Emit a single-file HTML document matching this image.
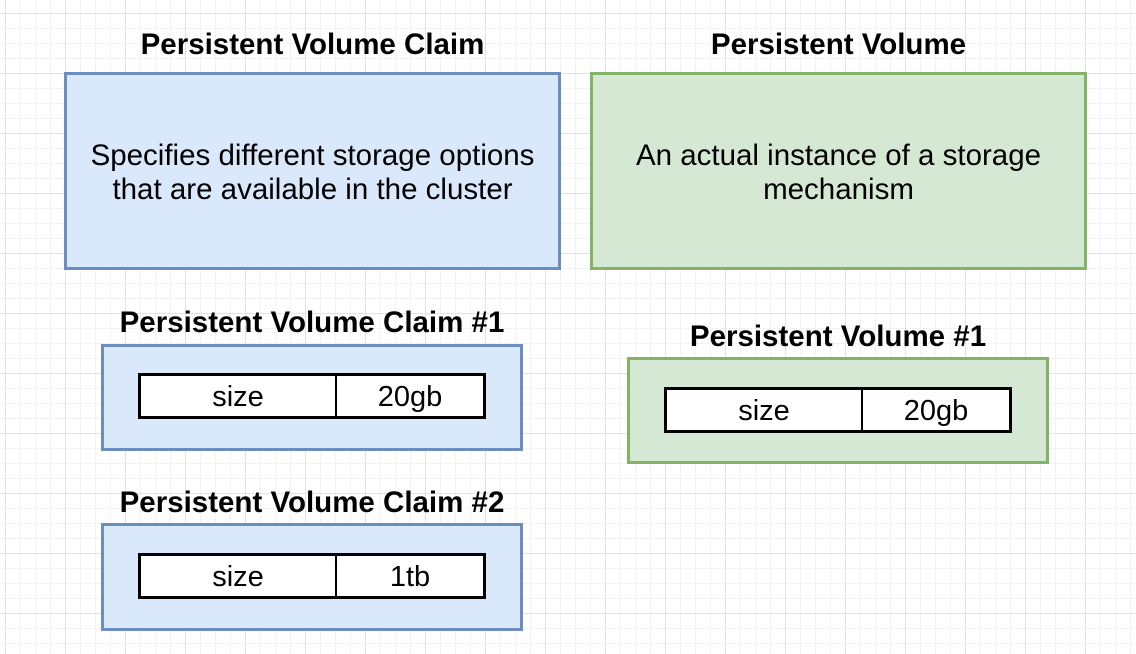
<!DOCTYPE html>
<html><head><style>
body{margin:0;width:1136px;height:654px;overflow:hidden;position:relative;font-family:"Liberation Sans",Arial,sans-serif;
background-color:#fff;
background-image:linear-gradient(#e2e2e2 1px,transparent 1px),linear-gradient(90deg,#e2e2e2 1px,transparent 1px),linear-gradient(#f2f2f2 1px,transparent 1px),linear-gradient(90deg,#f2f2f2 1px,transparent 1px);
background-size:60px 60px,60px 60px,15px 15px,15px 15px;background-position:0 13px,5px 0,0 13px,5px 0;}
.a{position:absolute;box-sizing:border-box}
.t{position:absolute;font-weight:bold;font-size:29.5px;line-height:34px;text-align:center;white-space:nowrap}
.b{border:3px solid #6c8ebf;background:#dae8fc}
.g{border:3px solid #82b366;background:#d5e8d4}
.big{display:flex;align-items:center;justify-content:center;text-align:center;font-size:29.5px;line-height:34px;padding-top:4px}
.tb{display:flex;border:3px solid #000;background:#fff;font-size:29px}
.tb div{display:flex;align-items:center;justify-content:center;padding-top:3px;box-sizing:border-box}
</style></head><body>
<div class="t" style="left:65px;width:495px;top:28px">Persistent Volume Claim</div>
<div class="t" style="left:591px;width:495px;top:28px">Persistent Volume</div>
<div class="a b big" style="left:64px;top:72px;width:497px;height:198px">Specifies different storage options<br>that are available in the cluster</div>
<div class="a g big" style="left:590px;top:72px;width:497px;height:198px">An actual instance of a storage<br>mechanism</div>

<div class="t" style="left:102px;width:420px;top:306px">Persistent Volume Claim #1</div>
<div class="a b" style="left:101px;top:344px;width:422px;height:107px"></div>
<div class="a tb" style="left:138px;top:373px;width:348px;height:46px"><div style="width:196px;border-right:2px solid #000">size</div><div style="flex:1">20gb</div></div>

<div class="t" style="left:628px;width:420px;top:320px">Persistent Volume #1</div>
<div class="a g" style="left:627px;top:357px;width:422px;height:107px"></div>
<div class="a tb" style="left:664px;top:387px;width:348px;height:46px"><div style="width:196px;border-right:2px solid #000">size</div><div style="flex:1">20gb</div></div>

<div class="t" style="left:102px;width:420px;top:486px">Persistent Volume Claim #2</div>
<div class="a b" style="left:101px;top:523px;width:422px;height:108px"></div>
<div class="a tb" style="left:138px;top:553px;width:348px;height:46px"><div style="width:196px;border-right:2px solid #000">size</div><div style="flex:1">1tb</div></div>
</body></html>
